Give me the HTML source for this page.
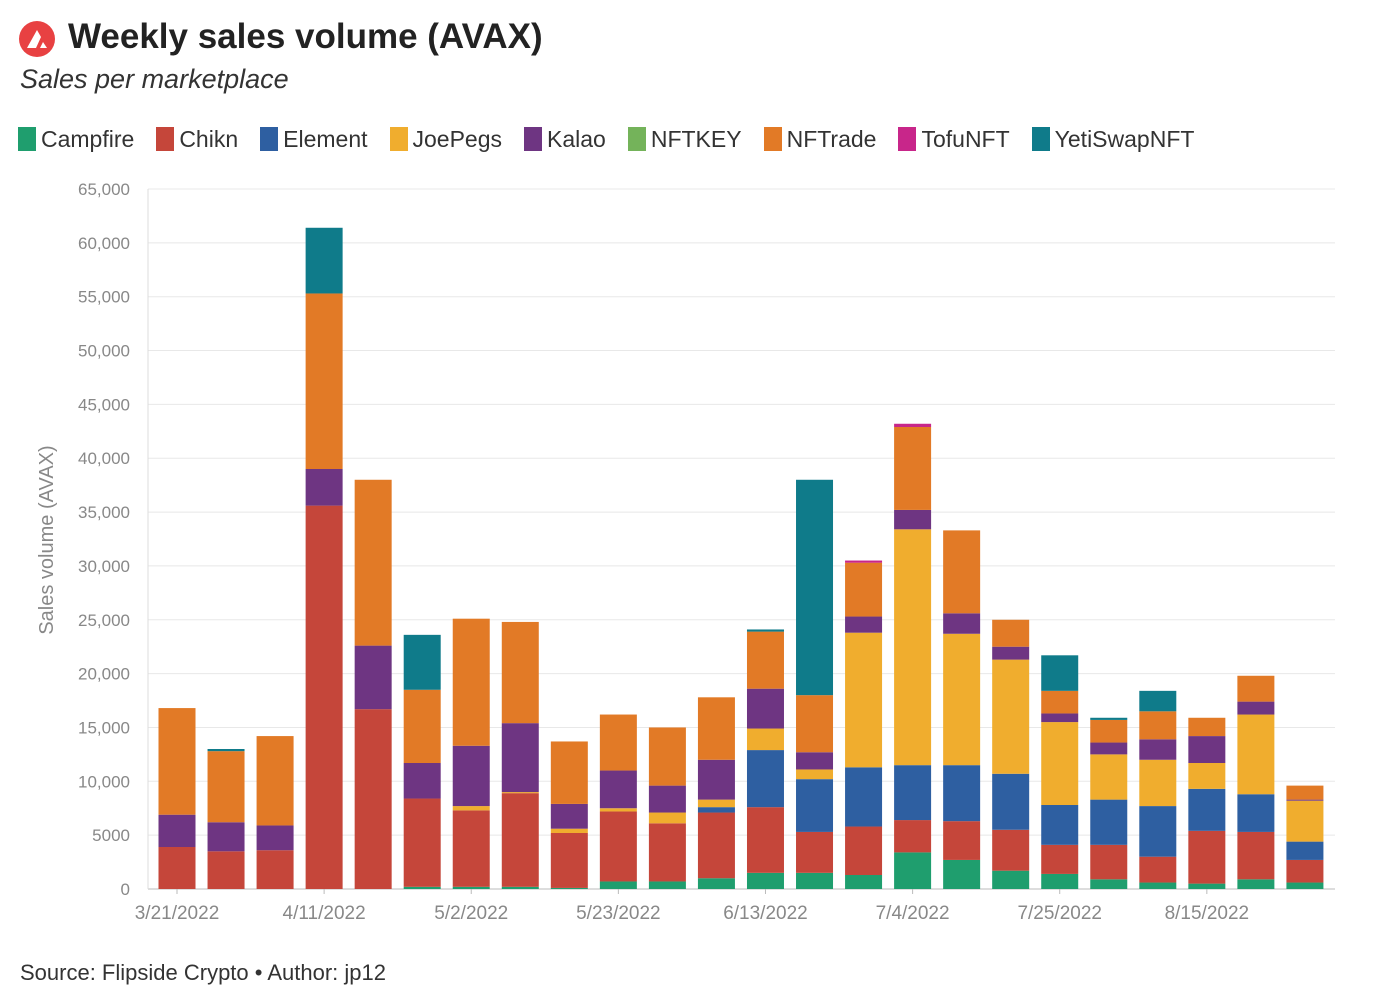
<!DOCTYPE html>
<html><head><meta charset="utf-8"><style>
body{margin:0;width:1400px;height:1007px;background:#fff;font-family:"Liberation Sans",sans-serif;overflow:hidden;position:relative}
.t{position:absolute}
</style></head><body>
<svg class="t" style="left:18px;top:20px" width="38" height="38"><circle cx="19" cy="19" r="18" fill="#e84142"/><path d="M9 28 L19 10 L23 17 L18 28Z M22 28 L25 22 L29 28Z" fill="#fff"/></svg>
<div class="t" style="left:68px;top:17px;font-size:35px;font-weight:bold;color:#222">Weekly sales volume (AVAX)</div>
<div class="t" style="left:20px;top:64px;font-size:27px;font-style:italic;color:#333">Sales per marketplace</div>
<div class="t" id="legend" style="left:18px;top:125px;font-size:23px;color:#333"></div>
<svg id="chart" class="t" style="left:0;top:0" width="1400" height="1007"></svg>
<div class="t" style="left:20px;top:960px;font-size:22px;color:#333">Source: Flipside Crypto • Author: jp12</div>
<script>
const series=["Campfire","Chikn","Element","JoePegs","Kalao","NFTKEY","NFTrade","TofuNFT","YetiSwapNFT"];
const colors=["#1f9e6e","#c5463a","#2e5fa1","#f0ad2e","#6e3582","#74b35a","#e27a26","#c8268a","#0f7b8a"];
const weeks=["3/21/2022","3/28/2022","4/4/2022","4/11/2022","4/18/2022","4/25/2022","5/2/2022","5/9/2022","5/16/2022","5/23/2022","5/30/2022","6/6/2022","6/13/2022","6/20/2022","6/27/2022","7/4/2022","7/11/2022","7/18/2022","7/25/2022","8/1/2022","8/8/2022","8/15/2022","8/22/2022","8/29/2022"];
const campfire=[0,0,0,0,0,200,200,200,100,700,700,1000,1500,1500,1300,3400,2700,1700,1400,900,600,500,900,600];
const chikn=[3900,3500,3600,35600,16700,8200,7100,8700,5100,6500,5400,6100,6100,3800,4500,3000,3600,3800,2700,3200,2400,4900,4400,2100];
const element=[0,0,0,0,0,0,0,0,0,0,0,500,5300,4900,5500,5100,5200,5200,3700,4200,4700,3900,3500,1700];
const joepegs=[0,0,0,0,0,0,400,100,400,300,1000,700,2000,900,12500,21900,12200,10600,7700,4200,4300,2400,7400,3800];
const kalao=[3000,2700,2300,3400,5900,3300,5600,6400,2300,3500,2500,3700,3700,1600,1500,1800,1900,1200,800,1100,1900,2500,1200,100];
const nftkey=[0,0,0,0,0,0,0,0,0,0,0,0,0,0,0,0,0,0,0,0,0,0,0,0];
const nftrade=[9900,6600,8300,16300,15400,6800,11800,9400,5800,5200,5400,5800,5300,5300,5000,7700,7700,2500,2100,2100,2600,1700,2400,1300];
const tofunft=[0,0,0,0,0,0,0,0,0,0,0,0,0,0,200,300,0,0,0,0,0,0,0,0];
const yetiswap=[0,200,0,6100,0,5100,0,0,0,0,0,0,200,20000,0,0,0,0,3300,200,1900,0,0,0];
const yTicks=[0,5000,10000,15000,20000,25000,30000,35000,40000,45000,50000,55000,60000,65000];
const values=[campfire,chikn,element,joepegs,kalao,nftkey,nftrade,tofunft,yetiswap];
const NS="http://www.w3.org/2000/svg";
const svg=document.getElementById('chart');
const x0=148,x1=1335,yBase=889,yTop=189,yMax=65000;
const y=v=>yBase-(v/yMax)*(yBase-yTop);
const step=49.04;
const xc=i=>177+step*i;
const bw=37;
function mk(tag,attrs){const e=document.createElementNS(NS,tag);for(const k in attrs)e.setAttribute(k,attrs[k]);svg.appendChild(e);return e;}
yTicks.forEach(v=>{
 const g=mk('line',{x1:x0,x2:x1,y1:y(v),y2:y(v),stroke:v?"#e8e8e8":"#bbb","stroke-width":1});
 
 
 const t=mk('text',{x:130,y:y(v)+6,"text-anchor":"end","font-size":17,fill:"#888","font-family":"Liberation Sans"});
 t.textContent=v===0?"0":(v<10000?String(v):v.toLocaleString('en-US'));
 
 
});
const ax=mk('line',{x1:x0,x2:x0,y1:yTop,y2:yBase,stroke:"#ddd"});


const yt=mk('text',{x:0,y:0,transform:"translate(53,540) rotate(-90)","text-anchor":"middle","font-size":20,fill:"#888","font-family":"Liberation Sans"});
yt.textContent="Sales volume (AVAX)";


weeks.forEach((w,i)=>{
 let acc=0;
 values.forEach((arr,s)=>{
  const v=arr[i];if(!v)return;
  const r=mk('rect',{x:xc(i)-bw/2,y:y(acc+v),width:bw,height:y(acc)-y(acc+v),fill:colors[s]});
  
  
  acc+=v;
 });
 if(i%3===0){
  const t=mk('text',{x:xc(i),y:919,"text-anchor":"middle","font-size":19,fill:"#888","font-family":"Liberation Sans"});
  t.textContent=w;
  
  
  const tk=mk('line',{x1:xc(i),x2:xc(i),y1:yBase,y2:yBase+5,stroke:"#bbb"});
  
  
 }
});
const lg=document.getElementById('legend');
series.forEach((s,i)=>{
 const sp=document.createElement('span');
 
 
 sp.style.cssText="display:inline-block;margin-right:22px;vertical-align:middle";
 sp.innerHTML='<span style="display:inline-block;width:18px;height:24px;background:'+colors[i]+';vertical-align:-4px;margin-right:5px"></span>'+s;
 lg.appendChild(sp);
});
</script>
</body></html>
